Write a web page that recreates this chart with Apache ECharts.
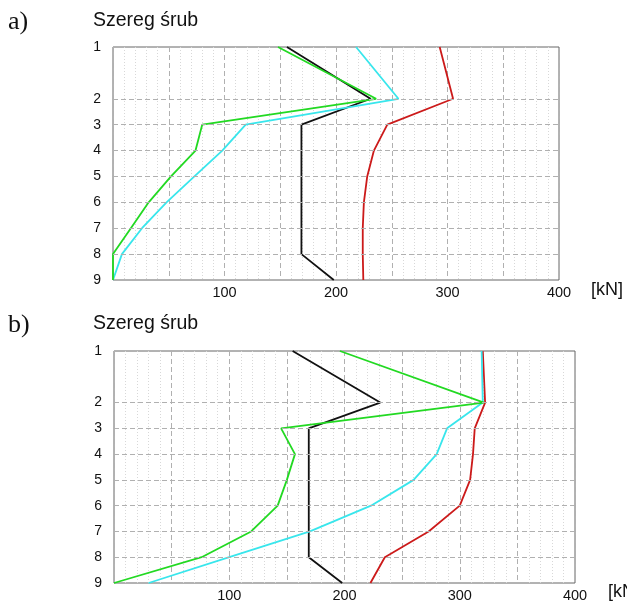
<!DOCTYPE html>
<html><head><meta charset="utf-8">
<script src="https://cdn.jsdelivr.net/npm/echarts@6/dist/echarts.min.js"></script>
<style>html,body{margin:0;padding:0;background:#fff}#c{width:627px;height:605px}</style>
</head><body><div id="c"></div>
<script>
// Row positions on the axis (row 1 sits two units above row 2)
const rows = [1, 2, 3, 4, 5, 6, 7, 8, 9];
const rowPos = [0, 2, 3, 4, 5, 6, 7, 8, 9];
const xTicks = [100, 200, 300, 400];

// Chart a)
const aGreen = [148, 236, 80, 74, 52, 32, 16, 0, 0];
const aCyan  = [218, 256, 119, 98, 73, 48, 26, 8, 0];
const aBlack = [156, 231, 169, 169, 169, 169, 169, 169, 198];
const aRed   = [293, 305, 246, 234, 228, 225, 224, 224, 224.5];

// Chart b)
const bGreen = [196, 321, 145, 157, 150, 142, 119, 76, 0];
const bCyan  = [319, 320, 289, 280, 260, 223, 170, 100, 30];
const bBlack = [155, 231, 169, 169, 169, 169, 169, 169, 198];
const bRed   = [320, 322, 313, 311.5, 309, 300, 273, 235, 222.5];

const colors = {green:'#22d922', cyan:'#38e6ec', black:'#111111', red:'#cc1a1a'};

const chart = echarts.init(document.getElementById('c'));
const font = 'Liberation Sans, Arial, sans-serif';

function xAxis(i){
  return {gridIndex:i, type:'value', min:0, max:400, interval:50,
    axisLine:{show:false}, axisTick:{show:false},
    axisLabel:{fontFamily:font, fontSize:14.5, color:'#111', margin:5,
      formatter:v => xTicks.includes(v) ? String(v) : ''},
    splitLine:{show:true, lineStyle:{color:'#b0b0b0', type:[5,3], width:1}},
    minorTick:{show:false, splitNumber:5},
    minorSplitLine:{show:true, lineStyle:{color:'#d8d8d8', type:[1,2], width:1}}
  };
}
function yAxis(i){
  return {gridIndex:i, type:'value', inverse:true, min:0, max:9, interval:1,
    axisLine:{show:false}, axisTick:{show:false}, splitLine:{show:false},
    axisLabel:{fontFamily:font, fontSize:14, color:'#111', margin:12,
      formatter:v => { const k = rowPos.indexOf(v); return k>=0 ? String(rows[k]) : ''; }}
  };
}
function line(i, data, color){
  return {type:'line', xAxisIndex:i, yAxisIndex:i, symbol:'none',
    data: data.map((v,k)=>[v, rowPos[k]]),
    lineStyle:{color:color, width:1.8}, silent:true, z:3};
}
function gridLines(i){
  return {type:'line', xAxisIndex:i, yAxisIndex:i, data:[], silent:true,
    markLine:{symbol:'none', silent:true, label:{show:false},
      lineStyle:{color:'#b0b0b0', type:[5,3], width:1},
      data: rowPos.filter(p=>p>0 && p<9).map(p=>({yAxis:p}))}};
}

const txt = (x,y,t,size,fam) => ({type:'text', left:x, top:y,
  style:{text:t, fontSize:size, fontFamily:fam, fill:'#111', textVerticalAlign:'middle'}});

chart.setOption({
  animation:false,
  grid:[
    {left:113, top:47, width:446, height:233, show:true, borderColor:'#666', borderWidth:1, backgroundColor:'#fff'},
    {left:114, top:351, width:461, height:232, show:true, borderColor:'#666', borderWidth:1, backgroundColor:'#fff'}
  ],
  xAxis:[xAxis(0), xAxis(1)],
  yAxis:[yAxis(0), yAxis(1)],
  graphic:[
    txt(8, 9, 'a)', 26, 'Liberation Serif, Times New Roman, serif'),
    txt(93, 11, 'Szereg śrub', 19.5, font),
    txt(591, 281, '[kN]', 18, font),
    txt(8, 312, 'b)', 26, 'Liberation Serif, Times New Roman, serif'),
    txt(93, 314, 'Szereg śrub', 19.5, font),
    txt(608, 583, '[kN]', 18, font)
  ],
  series:[
    gridLines(0), gridLines(1),
    line(0, aBlack, colors.black), line(0, aRed, colors.red),
    line(0, aCyan, colors.cyan), line(0, aGreen, colors.green),
    line(1, bBlack, colors.black), line(1, bRed, colors.red),
    line(1, bCyan, colors.cyan), line(1, bGreen, colors.green)
  ]
});
</script></body></html>
